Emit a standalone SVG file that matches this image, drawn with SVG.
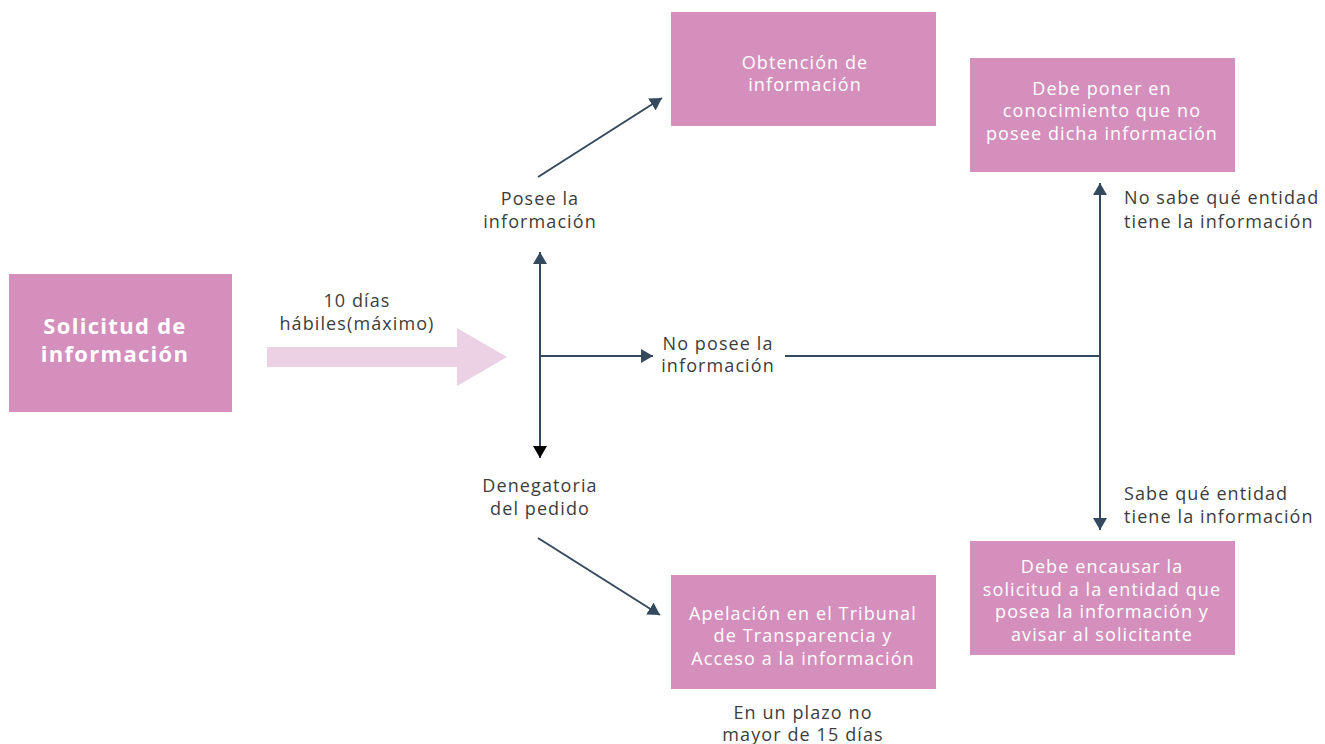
<svg xmlns="http://www.w3.org/2000/svg" width="1325" height="744" viewBox="0 0 1325 744">
<defs>
<style>
.box{fill:#d48fbd}
.bt{font-family:"Open Sans","Liberation Sans",sans-serif;font-size:18px;letter-spacing:1.1px;fill:#ffffff;text-anchor:middle}
.lbl{font-family:"Open Sans","Liberation Sans",sans-serif;font-size:18px;letter-spacing:1.1px;fill:#3d3d3d}
.ttl{font-size:22px;font-weight:bold;letter-spacing:1.3px}
.mid{text-anchor:middle}
.ln{stroke:#34495e;stroke-width:2;fill:none}
</style>
<marker id="ah" viewBox="0 0 12 14" refX="12" refY="7" markerWidth="12" markerHeight="14" markerUnits="userSpaceOnUse" orient="auto">
<path d="M0,0 L12,7 L0,14 Z" fill="#34495e"/>
</marker>
<marker id="ahk" viewBox="0 0 12 14" refX="12" refY="7" markerWidth="12" markerHeight="14" markerUnits="userSpaceOnUse" orient="auto">
<path d="M0,0 L12,7 L0,14 Z" fill="#000000"/>
</marker>
</defs>
<rect width="1325" height="744" fill="#ffffff"/>

<g id="connectors">
<path d="M267,347 H457 V328 L507,357 L457,386 V367 H267 Z" fill="#ecd0e3"/>
<line class="ln" x1="540" y1="356" x2="540" y2="252" marker-end="url(#ah)"/>
<line class="ln" x1="540" y1="356" x2="540" y2="458" marker-end="url(#ahk)"/>
<line class="ln" x1="540" y1="356" x2="653" y2="356" marker-end="url(#ah)"/>
<line class="ln" x1="538" y1="177" x2="662" y2="98" marker-end="url(#ah)"/>
<line class="ln" x1="538" y1="538" x2="660" y2="615" marker-end="url(#ah)"/>
<line class="ln" x1="785" y1="356" x2="1100" y2="356"/>
<line class="ln" x1="1100" y1="356" x2="1100" y2="183" marker-end="url(#ah)"/>
<line class="ln" x1="1100" y1="356" x2="1100" y2="530" marker-end="url(#ah)"/>
</g>

<g id="n-solicitud">
<rect class="box" x="9" y="274" width="223" height="138"/>
<text class="bt ttl" x="115" y="334">Solicitud de</text>
<text class="bt ttl" x="115" y="362">información</text>
</g>

<g id="lbl-plazo">
<text class="lbl mid" x="357" y="307">10 días</text>
<text class="lbl mid" x="357" y="330">hábiles(máximo)</text>
</g>

<g id="lbl-posee">
<text class="lbl mid" x="540" y="205">Posee la</text>
<text class="lbl mid" x="540" y="228">información</text>
</g>

<g id="lbl-noposee">
<text class="lbl mid" x="718" y="350">No posee la</text>
<text class="lbl mid" x="718" y="372">información</text>
</g>

<g id="lbl-denegatoria">
<text class="lbl mid" x="540" y="492">Denegatoria</text>
<text class="lbl mid" x="540" y="515">del pedido</text>
</g>

<g id="n-obtencion">
<rect class="box" x="671" y="12" width="265" height="114"/>
<text class="bt" x="805" y="69">Obtención de</text>
<text class="bt" x="805" y="91">información</text>
</g>

<g id="n-apelacion">
<rect class="box" x="671" y="575" width="265" height="114"/>
<text class="bt" x="803" y="620">Apelación en el Tribunal</text>
<text class="bt" x="803" y="642">de Transparencia y</text>
<text class="bt" x="803" y="665">Acceso a la información</text>
</g>

<g id="lbl-15dias">
<text class="lbl mid" x="803" y="719">En un plazo no</text>
<text class="lbl mid" x="803" y="741">mayor de 15 días</text>
</g>

<g id="n-debe-poner">
<rect class="box" x="970" y="58" width="265" height="114"/>
<text class="bt" x="1102" y="95">Debe poner en</text>
<text class="bt" x="1102" y="117">conocimiento que no</text>
<text class="bt" x="1102" y="140">posee dicha información</text>
</g>

<g id="lbl-nosabe">
<text class="lbl" x="1124" y="204">No sabe qué entidad</text>
<text class="lbl" x="1124" y="228">tiene la información</text>
</g>

<g id="lbl-sabe">
<text class="lbl" x="1124" y="500">Sabe qué entidad</text>
<text class="lbl" x="1124" y="523">tiene la información</text>
</g>

<g id="n-debe-encausar">
<rect class="box" x="970" y="541" width="265" height="114"/>
<text class="bt" x="1102" y="573">Debe encausar la</text>
<text class="bt" x="1102" y="596">solicitud a la entidad que</text>
<text class="bt" x="1102" y="618">posea la información y</text>
<text class="bt" x="1102" y="641">avisar al solicitante</text>
</g>
</svg>
